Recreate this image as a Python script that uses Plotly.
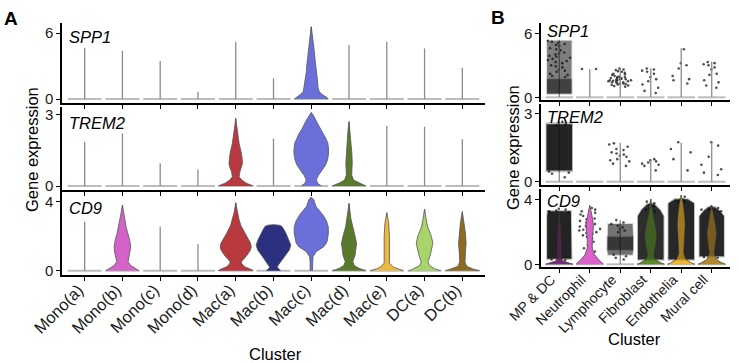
import plotly.graph_objects as go
from plotly.subplots import make_subplots

# ---------------- data ----------------
clusters_a = ["Mono(a)", "Mono(b)", "Mono(c)", "Mono(d)", "Mac(a)", "Mac(b)",
              "Mac(c)", "Mac(d)", "Mac(e)", "DC(a)", "DC(b)"]
clusters_b = ["MP & DC", "Neutrophil", "Lymphocyte", "Fibroblast", "Endothelia", "Mural cell"]
genes = ["SPP1", "TREM2", "CD9"]
y_ticks = [[0, 6], [0, 3], [0, 4]]

colors_a = ["#B0B0B0", "#D463C8", "#B0B0B0", "#B0B0B0", "#B8393E", "#2C3080",
            "#6B6FDA", "#5A7A2B", "#EDB940", "#A8D46B", "#8C6A22"]
colors_b = ["#7A2C72", "#D961C9", "#B0B0B0", "#5E8A2E", "#F0B630", "#B3882C"]

# maximum expression per cluster (top of each violin / tail)
spp1_max_a = [4.66, 4.39, 3.45, 0.66, 5.2, 1.88, 6.57, 4.9, 5.2, 4.6, 2.85]
trem2_max_a = [1.87, 2.22, 0.96, 0.7, 2.86, 2.01, 3.1, 2.72, 2.53, 2.5, 1.97]
cd9_max_a = [2.84, 3.81, 2.55, 1.55, 3.94, 2.67, 4.25, 3.9, 3.36, 3.56, 3.42]
spp1_max_b = [5.4, 2.65, 2.65, 2.72, 4.59, 3.34]
trem2_max_b = [2.6, 0.0, 1.73, 0.96, 1.73, 1.76]
cd9_max_b = [3.3, 3.65, 2.75, 4.06, 4.31, 3.64]

# violin density profiles: (expression level, half width in cluster units)
spp1_mac_c = [(0, 0.45), (0.1, 0.43), (0.25, 0.36), (0.45, 0.27), (0.7, 0.21), (1.0, 0.18),
              (1.5, 0.17), (2.0, 0.15), (2.5, 0.13), (3.0, 0.12), (3.6, 0.10), (4.2, 0.085),
              (4.8, 0.065), (5.4, 0.045), (6.0, 0.022), (6.57, 0)]
trem2_mac_a = [(0, 0.47), (0.05, 0.40), (0.12, 0.28), (0.25, 0.16), (0.39, 0.09), (0.6, 0.11),
               (0.8, 0.16), (0.96, 0.18), (1.15, 0.17), (1.38, 0.15), (1.8, 0.09), (2.22, 0.05),
               (2.6, 0.02), (2.86, 0)]
trem2_mac_c = [(0, 0.27), (0.1, 0.18), (0.18, 0.15), (0.28, 0.14), (0.45, 0.19), (0.6, 0.26),
               (0.89, 0.38), (1.1, 0.43), (1.38, 0.46), (1.6, 0.455), (1.8, 0.44), (2.0, 0.39),
               (2.23, 0.32), (2.4, 0.25), (2.58, 0.19), (2.75, 0.14), (2.86, 0.10), (3.0, 0.05), (3.1, 0)]
trem2_mac_d = [(0, 0.45), (0.06, 0.36), (0.14, 0.24), (0.25, 0.12), (0.46, 0.07), (0.96, 0.085),
               (1.38, 0.075), (1.94, 0.05), (2.3, 0.03), (2.72, 0)]
cd9_mono_b = [(0, 0.44), (0.07, 0.39), (0.14, 0.33), (0.3, 0.22), (0.52, 0.15), (0.8, 0.17),
              (1.1, 0.21), (1.39, 0.22), (1.8, 0.19), (2.17, 0.14), (2.5, 0.10), (2.84, 0.075),
              (3.3, 0.04), (3.81, 0)]
cd9_mac_a = [(0, 0.47), (0.05, 0.43), (0.1, 0.38), (0.23, 0.24), (0.4, 0.16), (0.52, 0.15),
             (0.7, 0.22), (0.9, 0.30), (1.2, 0.39), (1.39, 0.41), (1.6, 0.39), (1.8, 0.34),
             (2.17, 0.24), (2.6, 0.14), (2.94, 0.09), (3.4, 0.04), (3.94, 0)]
cd9_mac_b = [(0, 0.19), (0.1, 0.14), (0.2, 0.10), (0.33, 0.13), (0.81, 0.29), (1.2, 0.42),
             (1.49, 0.46), (1.8, 0.41), (2.17, 0.33), (2.45, 0.26), (2.58, 0.22), (2.64, 0.15), (2.67, 0)]
cd9_mac_c = [(0, 0.03), (0.5, 0.03), (0.81, 0.045), (1.1, 0.13), (1.25, 0.24), (1.39, 0.33),
             (1.6, 0.40), (1.78, 0.43), (2.2, 0.455), (2.55, 0.45), (2.9, 0.40), (3.23, 0.31),
             (3.5, 0.21), (3.71, 0.13), (3.95, 0.09), (4.1, 0.07), (4.2, 0.035), (4.25, 0)]
cd9_mac_d = [(0, 0.45), (0.06, 0.36), (0.14, 0.26), (0.3, 0.14), (0.52, 0.10), (0.9, 0.16),
             (1.59, 0.20), (2.0, 0.16), (2.55, 0.09), (3.0, 0.05), (3.9, 0)]
cd9_mac_e = [(0, 0.44), (0.05, 0.36), (0.1, 0.28), (0.2, 0.18), (0.43, 0.07), (0.8, 0.07), (1.39, 0.08),
             (2.0, 0.07), (2.75, 0.05), (3.0, 0.03), (3.36, 0)]
cd9_dc_a = [(0, 0.42), (0.06, 0.34), (0.12, 0.26), (0.3, 0.13), (0.52, 0.09), (0.9, 0.15), (1.59, 0.22),
            (2.0, 0.18), (2.55, 0.08), (3.0, 0.04), (3.56, 0)]
cd9_dc_b = [(0, 0.46), (0.05, 0.37), (0.1, 0.28), (0.25, 0.12), (0.5, 0.07), (1.0, 0.08), (1.6, 0.10),
            (2.2, 0.08), (2.8, 0.05), (3.42, 0)]

cd9_mpdc = [(0, 0.45), (0.08, 0.30), (0.2, 0.12), (0.4, 0.06), (1.0, 0.06), (2.0, 0.05), (3.3, 0)]
cd9_neutro = [(0, 0.45), (0.12, 0.38), (0.27, 0.30), (0.58, 0.16), (1.0, 0.08), (1.62, 0.08), (2.1, 0.11),
              (2.44, 0.12), (3.07, 0.065), (3.65, 0)]
cd9_fibro = [(0, 0.45), (0.06, 0.37), (0.12, 0.30), (0.3, 0.15), (0.6, 0.10), (1.2, 0.16), (1.8, 0.20),
             (2.4, 0.15), (3.0, 0.08), (3.5, 0.04), (4.06, 0)]
cd9_endo = [(0, 0.45), (0.06, 0.37), (0.12, 0.30), (0.3, 0.15), (0.7, 0.08), (1.5, 0.10), (2.5, 0.13),
            (3.2, 0.10), (3.8, 0.06), (4.31, 0)]
cd9_mural = [(0, 0.45), (0.06, 0.37), (0.12, 0.30), (0.3, 0.15), (0.7, 0.08), (1.3, 0.12), (1.9, 0.16),
             (2.5, 0.12), (3.0, 0.07), (3.64, 0)]

# dense jittered-cell clouds in panel B: (level, half width)
spp1_mpdc_cloud = [(0.3, 0.40), (5.3, 0.40)]
spp1_mpdc_core = [(0.4, 0.40), (1.7, 0.40)]
trem2_mpdc_cloud = [(0.5, 0.42), (2.55, 0.42)]
cd9_mpdc_cloud = [(0.35, 0.40), (3.0, 0.40), (3.3, 0.38)]
cd9_lymph_cloud = [(0.6, 0.40), (0.85, 0.42), (1.75, 0.42), (2.5, 0.40)]
cd9_lymph_core = [(0.9, 0.42), (1.7, 0.42)]
cd9_fibro_cloud = [(0.3, 0.42), (3.0, 0.42), (3.4, 0.30), (3.75, 0.10)]
cd9_endo_cloud = [(0.3, 0.42), (3.8, 0.42), (4.05, 0.20)]
cd9_mural_cloud = [(0.5, 0.40), (3.0, 0.40), (3.35, 0.25), (3.55, 0.10)]

# sparse individual cells in panel B (expression values)
spp1_mpdc_pts = [5.3, 5.2, 5.1, 5.0, 4.9, 4.8, 4.6, 4.5, 4.4, 4.2, 4.1, 4.0, 3.9, 3.8, 3.7,
                 3.6, 3.5, 3.4, 3.3, 3.2, 3.0, 2.9, 2.8, 2.6, 2.5, 2.4, 2.2, 2.1, 2.0, 1.9]
spp1_neutro_pts = [2.65, 2.65]
spp1_lymph_pts = [2.7, 2.6, 2.55, 2.45, 2.4, 2.3, 2.2, 2.15, 2.1, 2.0, 1.95, 1.9, 1.9, 1.85, 1.8,
                  1.8, 1.75, 1.7, 1.7, 1.65, 1.6, 1.6, 1.6, 1.55, 1.5, 1.5, 1.45, 1.4, 1.4, 1.35,
                  1.3, 1.3, 1.25, 1.2, 1.15, 1.1, 1.05, 1.0]
spp1_fibro_pts = [2.7, 2.6, 2.5, 2.4, 2.2, 1.9, 1.7, 1.5, 1.2, 0.9, 0.6, 0.4]
spp1_endo_pts = [4.5, 3.2, 3.0, 2.7, 2.0, 1.7, 1.6, 1.3]
spp1_mural_pts = [3.3, 3.2, 3.1, 3.0, 2.8, 2.6, 2.2, 2.1, 1.6, 1.4, 1.1, 0.9]
trem2_mpdc_pts = [2.65, 2.6, 2.55, 2.5, 0.45, 0.4, 0.35, 0.2]
trem2_lymph_pts = [1.7, 1.65, 1.55, 1.45, 1.4, 1.3, 1.25, 1.2, 1.15, 1.1, 1.0, 0.95, 0.9, 0.8, 0.7]
trem2_fibro_pts = [1.0, 0.95, 0.9, 0.85, 0.8, 0.75, 0.7, 0.5]
trem2_endo_pts = [1.75, 1.45, 1.3, 1.0, 0.5]
trem2_mural_pts = [1.75, 1.6, 1.1, 0.75, 0.55, 0.4, 0.3]
cd9_mpdc_pts = [3.45, 3.4, 3.35, 3.3, 3.2, 0.3, 0.25]
cd9_neutro_pts = [3.5, 3.4, 3.3, 3.2, 3.1, 3.0, 2.9, 2.85, 2.8, 2.75, 2.7, 2.6, 2.55, 2.5, 2.45,
                  2.4, 2.35, 2.3, 2.2, 2.15, 2.1, 2.0, 1.95, 1.9, 1.8, 1.7, 1.6, 1.5, 1.4, 1.2,
                  1.0, 0.8, 0.5, 0.3]
cd9_lymph_pts = [2.75, 2.6, 2.5, 2.4, 2.3, 2.2, 2.1, 2.0, 0.6, 0.5, 0.4, 0.3]
cd9_fibro_pts = [3.9, 3.8, 3.7, 3.6, 3.5, 3.4, 3.3, 0.25, 0.2]
cd9_endo_pts = [4.2, 4.1, 4.0, 3.95, 3.9, 3.85, 0.25, 0.2]
cd9_mural_pts = [3.6, 3.5, 3.45, 3.4, 3.3, 0.45, 0.4]

# ---------------- tables built from the lists ----------------
panels = [
    dict(clusters=clusters_a, colors=colors_a,
         maxes=[spp1_max_a, trem2_max_a, cd9_max_a],
         violins=[{"Mac(c)": spp1_mac_c},
                  {"Mac(a)": trem2_mac_a, "Mac(c)": trem2_mac_c, "Mac(d)": trem2_mac_d},
                  {"Mono(b)": cd9_mono_b, "Mac(a)": cd9_mac_a, "Mac(b)": cd9_mac_b, "Mac(c)": cd9_mac_c,
                   "Mac(d)": cd9_mac_d, "Mac(e)": cd9_mac_e, "DC(a)": cd9_dc_a, "DC(b)": cd9_dc_b}],
         clouds=[[], [], []], points=[{}, {}, {}]),
    dict(clusters=clusters_b, colors=colors_b,
         maxes=[spp1_max_b, trem2_max_b, cd9_max_b],
         violins=[{}, {},
                  {"MP & DC": cd9_mpdc, "Neutrophil": cd9_neutro, "Fibroblast": cd9_fibro,
                   "Endothelia": cd9_endo, "Mural cell": cd9_mural}],
         clouds=[[("MP & DC", spp1_mpdc_cloud, 0.45), ("MP & DC", spp1_mpdc_core, 0.45)],
                 [("MP & DC", trem2_mpdc_cloud, 0.88)],
                 [("MP & DC", cd9_mpdc_cloud, 0.88),
                  ("Lymphocyte", cd9_lymph_cloud, 0.5), ("Lymphocyte", cd9_lymph_core, 0.5),
                  ("Fibroblast", cd9_fibro_cloud, 0.82),
                  ("Endothelia", cd9_endo_cloud, 0.85),
                  ("Mural cell", cd9_mural_cloud, 0.85)]],
         points=[{"MP & DC": spp1_mpdc_pts, "Neutrophil": spp1_neutro_pts, "Lymphocyte": spp1_lymph_pts,
                  "Fibroblast": spp1_fibro_pts, "Endothelia": spp1_endo_pts, "Mural cell": spp1_mural_pts},
                 {"MP & DC": trem2_mpdc_pts, "Lymphocyte": trem2_lymph_pts, "Fibroblast": trem2_fibro_pts,
                  "Endothelia": trem2_endo_pts, "Mural cell": trem2_mural_pts},
                 {"MP & DC": cd9_mpdc_pts, "Neutrophil": cd9_neutro_pts, "Lymphocyte": cd9_lymph_pts,
                  "Fibroblast": cd9_fibro_pts, "Endothelia": cd9_endo_pts, "Mural cell": cd9_mural_pts}]),
]

# ---------------- layout geometry (pixels) ----------------
W, H = 739, 363
dom_x = [(62, 485), (541, 730)]
dom_y = [[(23, 103), (107, 189.5), (192, 275)], [(23, 100), (104, 185), (189, 267)]]
zero_px = [[99, 186, 270.7], [97.3, 181.7, 264.3]]
unit_px = [[11.0, 23.67, 17.25], [10.67, 22.57, 16.08]]
tick_size = [16.5, 14]
label_shift = [-6, -8]
label_standoff = [-7, -7]

FONT = "Liberation Sans, Arial, sans-serif"
OUTLINE = "#555555"
BASE_W = 0.45

fig = make_subplots(rows=3, cols=2)


def outline(center, prof, dw=0.0, dy=0.0):
    ws = [w + dw for _, w in prof]
    ys = [l for l, _ in prof]
    ys[0] -= dy
    ys[-1] += dy
    xs = [center + w for w in ws] + [center - w for w in reversed(ws)]
    return xs, ys + ys[::-1]


for p, panel in enumerate(panels):
    cl = panel["clusters"]
    for r in range(3):
        maxes = panel["maxes"][r]
        bx, by = [], []
        for i in range(len(cl)):
            bx += [i - BASE_W, i + BASE_W, None]
            by += [0, 0, None]
        fig.add_trace(go.Scatter(x=bx, y=by, mode="lines", line=dict(color="#BDBDBD", width=2),
                                 hoverinfo="skip", showlegend=False), row=r + 1, col=p + 1)
        vx, vy = [], []
        for i in range(len(cl)):
            if maxes[i] > 0:
                vx += [i, i, None]
                vy += [0, maxes[i], None]
        fig.add_trace(go.Scatter(x=vx, y=vy, mode="lines", line=dict(color="#8C8C8C", width=1.3),
                                 hoverinfo="skip", showlegend=False), row=r + 1, col=p + 1)
        for name, prof in panel["violins"][r].items():
            i = cl.index(name)
            xs, ys = outline(i, prof)
            fig.add_trace(go.Scatter(x=xs, y=ys, mode="lines", fill="toself",
                                     fillcolor=panel["colors"][i],
                                     line=dict(color=OUTLINE, width=0.8),
                                     hoverinfo="skip", showlegend=False), row=r + 1, col=p + 1)
        for name, prof, op in panel["clouds"][r]:
            i = cl.index(name)
            xs, ys = outline(i, prof, dw=0.03, dy=0.08)
            fig.add_trace(go.Scatter(x=xs, y=ys, mode="lines", fill="toself",
                                     fillcolor=f"rgba(12,12,12,{op * 0.3:.2f})", line=dict(width=0),
                                     hoverinfo="skip", showlegend=False), row=r + 1, col=p + 1)
            xs, ys = outline(i, prof)
            fig.add_trace(go.Scatter(x=xs, y=ys, mode="lines", fill="toself",
                                     fillcolor=f"rgba(12,12,12,{op})", line=dict(width=0),
                                     hoverinfo="skip", showlegend=False), row=r + 1, col=p + 1)
        if panel["clouds"][r]:
            for name, prof in panel["violins"][r].items():
                i = cl.index(name)
                xs, ys = outline(i, prof)
                fig.add_trace(go.Scatter(x=xs, y=ys, mode="lines", fill="toself",
                                         fillcolor=panel["colors"][i], opacity=0.6,
                                         line=dict(color=OUTLINE, width=0.6),
                                         hoverinfo="skip", showlegend=False), row=r + 1, col=p + 1)
        for name, vals in panel["points"][r].items():
            i = cl.index(name)
            fig.add_trace(go.Box(y=vals, x0=i, width=0.8, boxpoints="all", jitter=1.0, pointpos=0,
                                 fillcolor="rgba(0,0,0,0)", line=dict(color="rgba(0,0,0,0)", width=0),
                                 marker=dict(size=2.6, color="#262626", opacity=0.8),
                                 hoverinfo="skip", showlegend=False), row=r + 1, col=p + 1)

for p, panel in enumerate(panels):
    cl = panel["clusters"]
    for r in range(3):
        idx = r * 2 + p + 1
        xa = "xaxis" if idx == 1 else f"xaxis{idx}"
        ya = "yaxis" if idx == 1 else f"yaxis{idx}"
        top, bot = dom_y[p][r]
        z, u = zero_px[p][r], unit_px[p][r]
        fig.layout[ya].update(
            domain=[1 - bot / H, 1 - top / H], range=[-(bot - z) / u, (z - top) / u],
            tickvals=y_ticks[r], ticktext=[str(t) for t in y_ticks[r]],
            showline=True, linecolor="black", linewidth=1.5, ticks="outside", ticklen=4,
            tickwidth=1.2, tickcolor="black", showgrid=False, zeroline=False,
            tickfont=dict(family=FONT, size=15, color="#1a1a1a"), automargin=False)
        fig.layout[xa].update(
            domain=[dom_x[p][0] / W, dom_x[p][1] / W], range=[-0.6, len(cl) - 0.4],
            tickvals=list(range(len(cl))), ticktext=cl, showticklabels=(r == 2), tickangle=-45,
            ticklabelshift=label_shift[p], ticklabelstandoff=label_standoff[p],
            showline=True, linecolor="black", linewidth=2, ticks="outside", ticklen=4,
            tickwidth=1.2, tickcolor="black", showgrid=False, zeroline=False,
            tickfont=dict(family=FONT, size=tick_size[p], color="#1a1a1a"), automargin=False)

ann = []


def text(x, y, s, size, **kw):
    ann.append(dict(x=x / W, y=1 - y / H, xref="paper", yref="paper", text=s, showarrow=False,
                    font=dict(family=FONT, size=size, color="black"), **kw))


text(10.5, 18, "<b>A</b>", 19, xanchor="center", yanchor="middle")
text(498, 17, "<b>B</b>", 19, xanchor="center", yanchor="middle")
gene_y = [[37, 123, 208], [31, 117, 201]]
gene_x = [67, 545]
for p in range(2):
    for r in range(3):
        text(gene_x[p], gene_y[p][r], f"<i>{genes[r]}</i>", 16.5, xanchor="left", yanchor="middle")
text(32, 150, "Gene expression", 16.5, textangle=-90, xanchor="center", yanchor="middle")
text(513, 148, "Gene expression", 16.5, textangle=-90, xanchor="center", yanchor="middle")
text(275, 354, "Cluster", 16.5, xanchor="center", yanchor="middle")
text(634, 339, "Cluster", 16.5, xanchor="center", yanchor="middle")

fig.update_layout(width=W, height=H, margin=dict(l=0, r=0, t=0, b=0),
                  paper_bgcolor="white", plot_bgcolor="white", annotations=ann,
                  showlegend=False, boxmode="overlay")
fig.write_html("out.html", config={"displayModeBar": False},
               post_script="document.body.style.margin='0';")
